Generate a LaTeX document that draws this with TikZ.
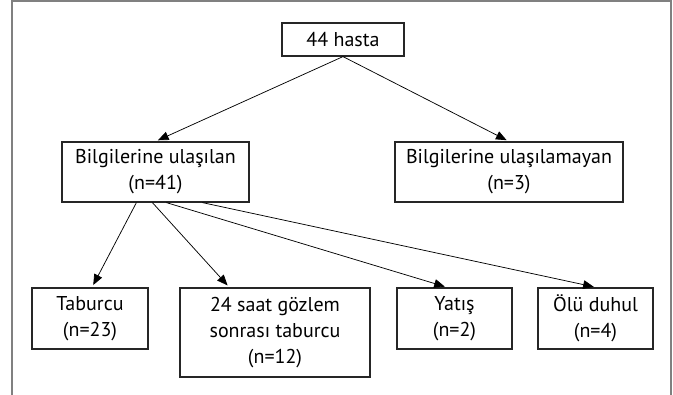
\documentclass[tikz,border=0pt]{standalone}
\usepackage{fontspec}
\setmainfont{PT Sans}
\usetikzlibrary{arrows.meta,calc}
\begin{document}
\begin{tikzpicture}[x=0.75pt,y=-0.75pt,
  box/.style={draw=black!85, line width=0.9pt, fill=white, align=center, inner sep=0pt,
    font=\fontsize{15}{19.5}\selectfont},
  arr/.style={-{Triangle[length=8pt,width=6.5pt]}, line width=0.55pt, shorten >=2pt},
  frame/.style={draw=black!50, line width=1.4pt}]
\useasboundingbox (0,0) rectangle (673,395);
\draw[frame] (12,400) -- (12,0.9) -- (671.4,0.9) -- (671.4,400);

\node[box, minimum width=122*0.75pt, minimum height=33*0.75pt] (A) at (343,39.5) {44 hasta};
\node[box, minimum width=187*0.75pt, minimum height=60*0.75pt] (B) at (155.5,172) {Bilgilerine ulaşılan\\(n=41)};
\node[box, minimum width=228*0.75pt, minimum height=60*0.75pt] (C) at (509,172) {Bilgilerine ulaşılamayan\\(n=3)};
\node[box, minimum width=116*0.75pt, minimum height=61*0.75pt] (D) at (90,318.5) {Taburcu\\(n=23)};
\node[box, minimum width=190*0.75pt, minimum height=89*0.75pt] (E) at (275,332.5) {24 saat gözlem\\sonrası taburcu\\(n=12)};
\node[box, minimum width=115*0.75pt, minimum height=61*0.75pt] (F) at (454.5,318.5) {Yatış\\(n=2)};
\node[box, minimum width=115*0.75pt, minimum height=61*0.75pt] (G) at (595.5,318.5) {Ölü duhul\\(n=4)};

\draw[arr] (A.south) -- (B.north);
\draw[arr] (A.south) -- (C.north);

\draw[arr] ([xshift=56.25pt]B.south west) -- ([xshift=1.5pt]D.north);
\draw[arr] ([xshift=68.25pt]B.south west) -- ([xshift=37.5pt]E.north west);
\draw[arr] ([xshift=78.75pt]B.south west) -- ([xshift=38.25pt]F.north west);
\draw[arr] ([xshift=105.75pt]B.south west) -- ([xshift=44.25pt]G.north west);
\end{tikzpicture}
\end{document}
